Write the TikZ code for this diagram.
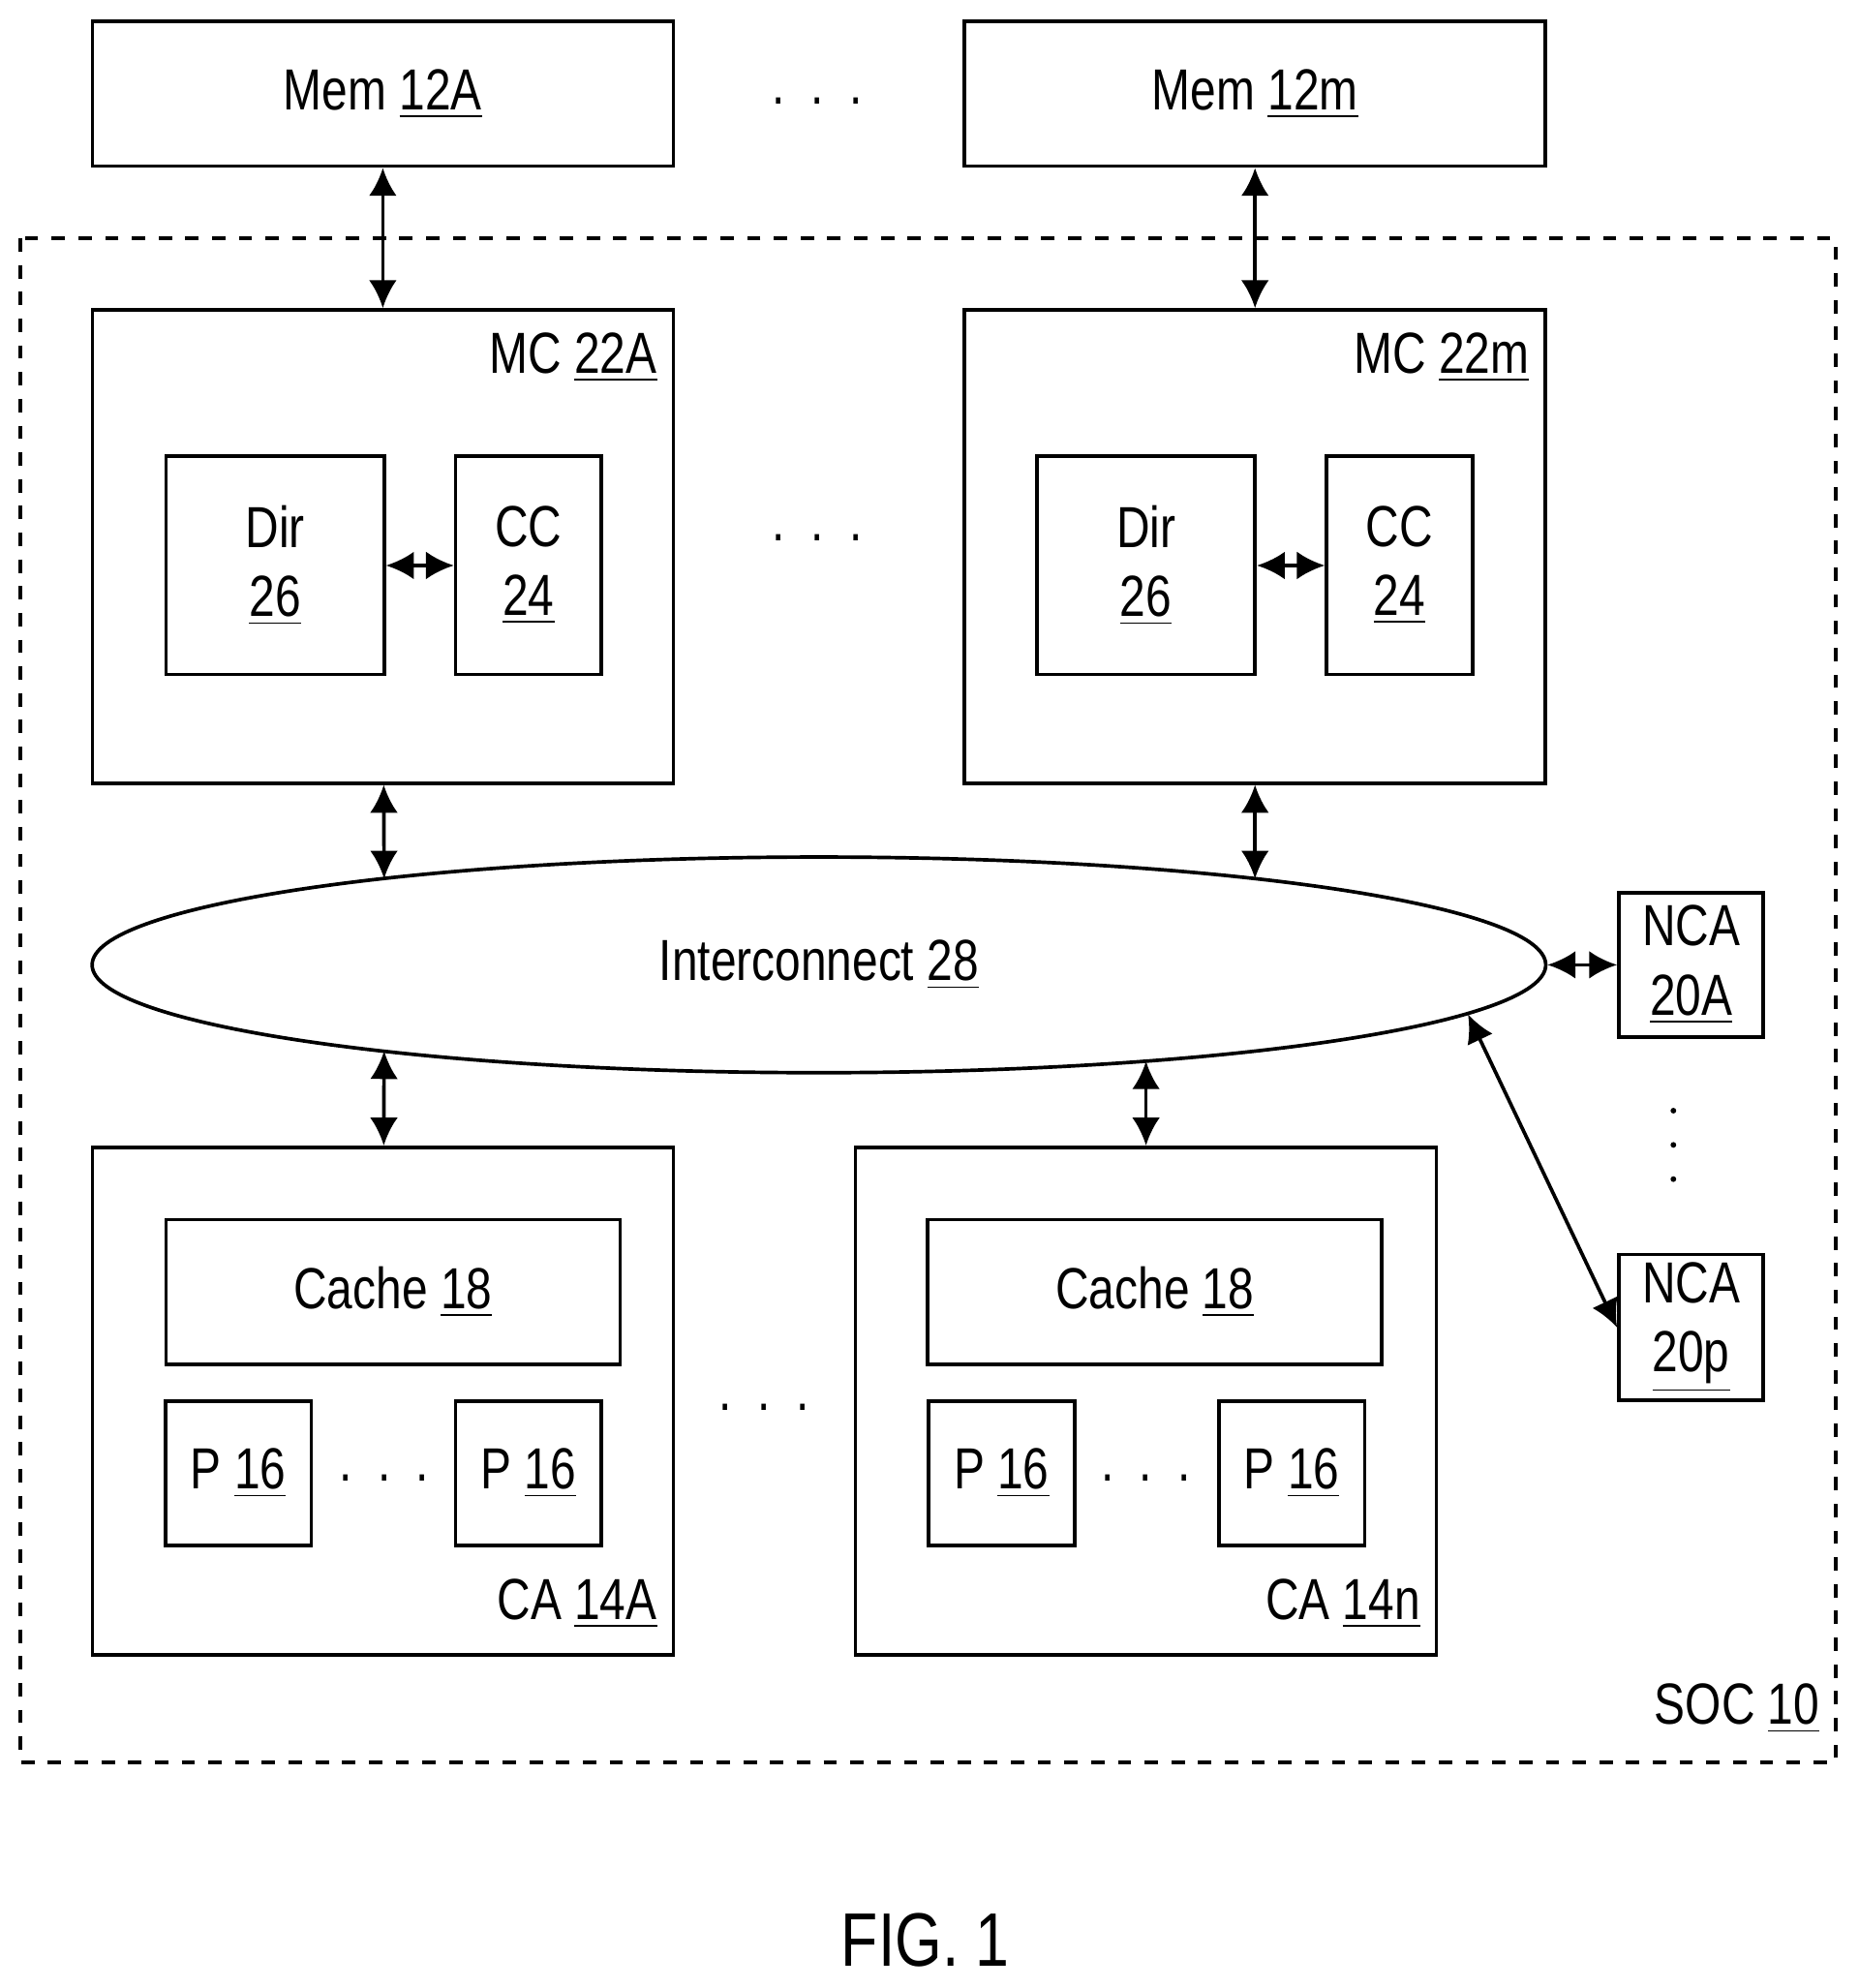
\documentclass[tikz,border=0pt]{standalone}
\usepackage{fontspec}
\setmainfont{Liberation Sans}[FakeStretch=0.8]
\usetikzlibrary{arrows.meta,shapes,positioning}
\begin{document}
\begin{tikzpicture}[
        x=0.01cm, y=-0.01cm,
        every node/.style={font=\fontsize{13}{15.5}\selectfont, inner sep=0pt},
        box/.style={draw, thick, align=center},
        dot/.style={circle, fill, minimum size=0.045cm},
        link/.style={thick, {Latex[length=2.2mm,width=2.2mm]}-{Latex[length=2.2mm,width=2.2mm]}}
    ]
        \useasboundingbox (0,0) rectangle (1466,1568);

        % Memories
        \node[box, minimum width=4.58cm, minimum height=1.14cm] (MemA) at (302,74) {Mem \underline{12A}};
        \node[box, minimum width=4.58cm, minimum height=1.14cm] (MemM) at (990,74) {Mem \underline{12m}};
        \node (dotsMem) at (645,80) {.\ \ .\ \ .};

        % SOC boundary
        \draw[thick, dashed] (16,188) rectangle (1448,1390);
        \node[anchor=south east] (soc) at (1436,1368) {SOC \underline{10}};

        % Memory controllers
        \node[box, minimum width=4.58cm, minimum height=3.73cm] (MCa) at (302,431) {};
        \node[anchor=south east] at (519,302) {MC \underline{22A}};
        \node[box, minimum width=1.72cm, minimum height=1.72cm] (DirA) at (217,446) {Dir\\\underline{26}};
        \node[box, minimum width=1.15cm, minimum height=1.72cm] (CCA) at (417,446) {CC\\\underline{24}};
        \node[box, minimum width=4.58cm, minimum height=3.73cm] (MCm) at (990,431) {};
        \node[anchor=south east] at (1207,302) {MC \underline{22m}};
        \node[box, minimum width=1.72cm, minimum height=1.72cm] (DirM) at (904,446) {Dir\\\underline{26}};
        \node[box, minimum width=1.15cm, minimum height=1.72cm] (CCM) at (1104,446) {CC\\\underline{24}};
        \node (dotsMC) at (645,424) {.\ \ .\ \ .};

        % Interconnect
        \node[draw, thick, ellipse, minimum width=11.46cm, minimum height=1.7cm] (Ic) at (646,761) {Interconnect \underline{28}};
        \coordinate (i1) at (303,693);
        \coordinate (i2) at (990,693);
        \coordinate (i3) at (303,829);
        \coordinate (i4) at (904,837);
        \coordinate (i5) at (1158,800);

        % Non-coherent agents
        \node[box, minimum width=1.14cm, minimum height=1.14cm] (NCAa) at (1334,761) {NCA\\\underline{20A}};
        \node[box, minimum width=1.14cm, minimum height=1.15cm] (NCAp) at (1334,1047) {NCA\\\underline{20p}};
        \node[dot] (dotsNCA1) at (1320,876) {};
        \node[dot] (dotsNCA2) at (1320,903) {};
        \node[dot] (dotsNCA3) at (1320,930) {};

        % Coherent agents
        \node[box, minimum width=4.58cm, minimum height=4cm] (CAa) at (302,1105) {};
        \node[anchor=south east] at (519,1285) {CA \underline{14A}};
        \node[box, minimum width=3.58cm, minimum height=1.14cm] (CacheA) at (310,1019) {Cache \underline{18}};
        \node[box, minimum width=1.15cm, minimum height=1.14cm] (PA1) at (188,1162) {P \underline{16}};
        \node[box, minimum width=1.15cm, minimum height=1.14cm] (PA2) at (417,1162) {P \underline{16}};
        \node (dotsPA) at (303,1166) {.\ \ .\ \ .};
        \node[box, minimum width=4.58cm, minimum height=4cm] (CAn) at (904,1105) {};
        \node[anchor=south east] at (1121,1285) {CA \underline{14n}};
        \node[box, minimum width=3.58cm, minimum height=1.14cm] (CacheN) at (911,1019) {Cache \underline{18}};
        \node[box, minimum width=1.15cm, minimum height=1.14cm] (PN1) at (790,1162) {P \underline{16}};
        \node[box, minimum width=1.15cm, minimum height=1.14cm] (PN2) at (1019,1162) {P \underline{16}};
        \node (dotsPN) at (904,1166) {.\ \ .\ \ .};
        \node (dotsCA) at (603,1110) {.\ \ .\ \ .};

        \node[font=\fontsize{17}{20}\selectfont] (fig) at (730,1530) {FIG. 1};

        % Connections
        \draw[link] (MemA) -- (MCa);
        \draw[link] (MemM) -- (MCm);
        \draw[link] (DirA) -- (CCA);
        \draw[link] (DirM) -- (CCM);
        \draw[link] (MCa) -- (i1);
        \draw[link] (MCm) -- (i2);
        \draw[link] (i3) -- (CAa);
        \draw[link] (i4) -- (CAn);
        \draw[link] (Ic) -- (NCAa);
        \draw[link] (i5) -- (NCAp.west);
    \end{tikzpicture}
\end{document}
